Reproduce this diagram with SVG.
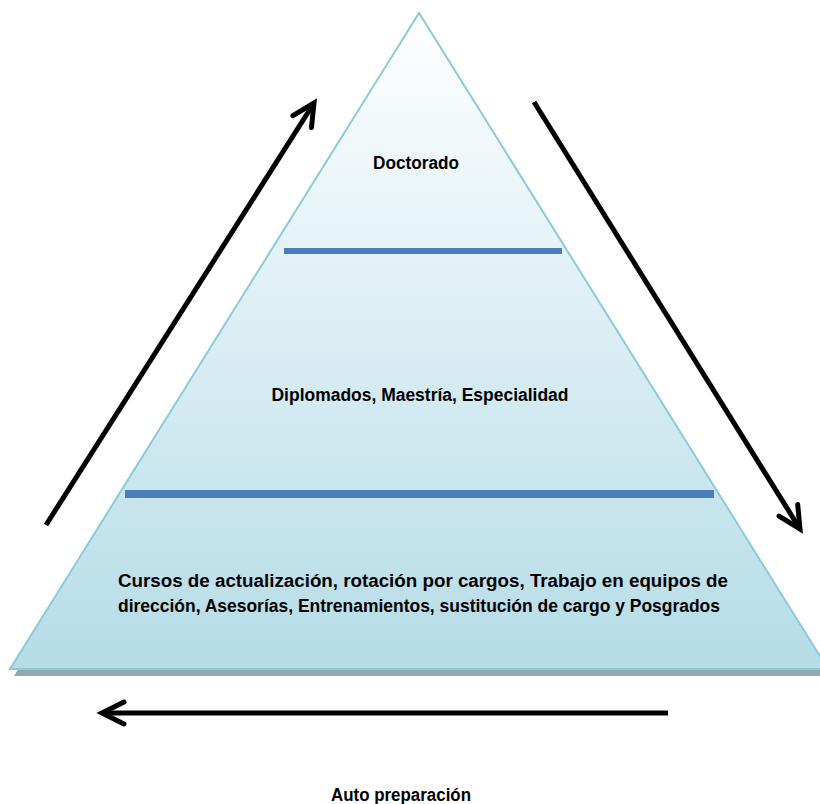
<svg xmlns="http://www.w3.org/2000/svg" width="820" height="804" viewBox="0 0 820 804">
<defs>
<linearGradient id="g" x1="0" y1="0" x2="0" y2="1">
<stop offset="0" stop-color="#ffffff"/>
<stop offset="1" stop-color="#b5dce7"/>
</linearGradient>
<marker id="ah" markerUnits="userSpaceOnUse" markerWidth="40" markerHeight="40" refX="0" refY="0" viewBox="-30 -20 40 40" orient="auto">
<path d="M-22,-11 L0,0 L-22,11" fill="none" stroke="#000" stroke-width="5" stroke-linecap="round" stroke-linejoin="miter"/>
</marker>
<style>
.t{font-family:"Liberation Sans",Arial,sans-serif;font-weight:bold;font-size:17.5px;fill:#000}
.bar{fill:#4a7ebb}
.arr{fill:none;stroke:#000;stroke-width:5;marker-end:url(#ah)}
</style>
</defs>
<g id="pyramid">
<polygon points="419,19 14,676 832,676" fill="#8fa9ae"/>
<polygon points="419,13 10,669 828,669" fill="url(#g)" stroke="#8ccbd9" stroke-width="2"/>
</g>
<g id="level1">
<text class="t" x="416" y="169" text-anchor="middle" textLength="86" lengthAdjust="spacingAndGlyphs">Doctorado</text>
</g>
<rect class="bar" x="284" y="248" width="278" height="6"/>
<g id="level2">
<text class="t" x="420" y="401" text-anchor="middle" textLength="297" lengthAdjust="spacingAndGlyphs">Diplomados, Maestría, Especialidad</text>
</g>
<rect class="bar" x="125" y="490" width="589" height="8"/>
<g id="level3">
<text class="t" x="118" y="587" textLength="610" lengthAdjust="spacingAndGlyphs">Cursos de actualización, rotación por cargos, Trabajo en equipos de</text>
<text class="t" x="118" y="612" textLength="602" lengthAdjust="spacingAndGlyphs">dirección, Asesorías, Entrenamientos, sustitución de cargo y Posgrados</text>
</g>
<g id="connectors">
<line class="arr" x1="46" y1="525" x2="314" y2="103"/>
<line class="arr" x1="534" y1="102" x2="800" y2="529"/>
<line class="arr" x1="668" y1="713" x2="102" y2="713"/>
</g>
<g id="label">
<text class="t" x="401" y="801" text-anchor="middle" textLength="140" lengthAdjust="spacingAndGlyphs">Auto preparación</text>
</g>
</svg>
